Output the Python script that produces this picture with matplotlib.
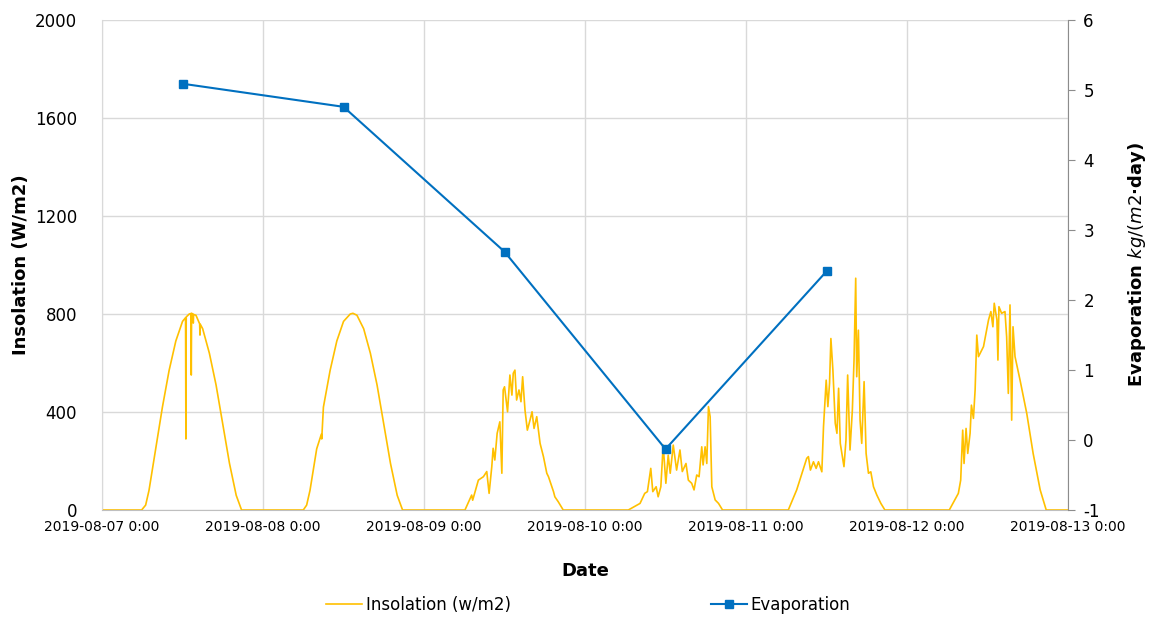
import numpy as np
import pandas as pd
import matplotlib
matplotlib.use("Agg")
import matplotlib.pyplot as plt

plt.rcParams["axes.unicode_minus"] = False

START = pd.Timestamp("2019-08-07")

# insolation, per day: hour of day and W/m2
day1_h = [0, 5.9, 6.5, 7, 8, 9, 10, 11, 12, 12.45, 12.5, 12.55, 13, 13.25, 13.3, 13.35,
          13.55, 13.6, 13.65, 14, 14.55, 14.6, 14.65, 15, 16, 17, 18, 19, 20, 20.8, 24]
day1_v = [0, 0, 20, 80, 250, 420, 570, 690, 770, 785, 290, 788, 800, 802, 551, 803,
          800, 763, 798, 795, 760, 714, 758, 740, 640, 510, 350, 190, 60, 0, 0]

day2_h = [0, 6.0, 6.5, 7, 8, 8.7, 8.75, 9, 10, 11, 12, 13, 13.4, 14, 15, 16, 17, 18, 19, 20, 20.8, 24]
day2_v = [0, 0, 20, 80, 250, 310, 290, 420, 570, 690, 770, 800, 803, 795, 740, 640, 510, 350, 190, 60, 0, 0]

day3_h = [0, 6.1, 7.1, 7.25, 8.1, 8.85, 9.35, 9.7, 10.1, 10.3, 10.55, 10.9, 11.3, 11.6, 11.8,
          12.0, 12.45, 12.8, 13.1, 13.3, 13.55, 13.8, 14.15, 14.45, 14.7, 15.05, 15.4, 15.8,
          16.1, 16.4, 16.8, 17.3, 17.8, 18.3, 18.55, 19.3, 19.5, 20.0, 20.75, 24]
day3_v = [0, 0, 61, 40, 122, 136, 157, 68, 177, 252, 204, 313, 360, 150, 490,
          503, 401, 551, 469, 558, 571, 449, 490, 442, 544, 408, 326, 367,
          401, 333, 381, 272, 218, 150, 136, 75, 54, 34, 0, 0]

day4_h = [0, 6.45, 8.2, 8.9, 9.3, 9.8, 10.1, 10.6, 10.9, 11.3, 11.65, 12.05, 12.4, 12.7,
          13.15, 13.65, 14.15, 14.5, 15.05, 15.4, 15.9, 16.25, 16.65, 17.0, 17.4, 17.6,
          17.9, 18.15, 18.4, 18.65, 18.9, 19.4, 19.9, 20.5, 24]
day4_v = [0, 0, 27, 68, 75, 170, 75, 95, 54, 95, 265, 109, 224, 150,
          265, 163, 245, 157, 190, 122, 109, 82, 143, 136, 258, 184,
          258, 190, 422, 381, 95, 41, 27, 0, 0]

day5_h = [0, 6.3, 7.55, 8.5, 9.05, 9.3, 9.6, 10.05, 10.45, 10.8, 11.3, 11.55, 11.95, 12.2,
          12.45, 12.65, 12.95, 13.3, 13.55, 13.8, 14.05, 14.6, 14.9, 15.15, 15.5, 15.85,
          16.1, 16.35, 16.5, 16.75, 17.0, 17.25, 17.6, 17.9, 18.25, 18.6, 19.0, 19.5,
          20.1, 20.7, 24]
day5_v = [0, 0, 82, 163, 211, 218, 163, 197, 170, 197, 156, 340, 530, 422,
          517, 700, 571, 354, 313, 497, 272, 177, 286, 551, 245, 408,
          612, 946, 544, 734, 367, 272, 524, 231, 150, 156, 95, 61,
          27, 0, 0]

day6_h = [0, 6.3, 7.65, 8.0, 8.3, 8.5, 8.8, 9.05, 9.4, 9.6, 9.9, 10.15, 10.4, 10.65, 11.4,
          12.15, 12.5, 12.8, 13.0, 13.4, 13.55, 13.7, 14.1, 14.6, 14.85, 15.1, 15.35,
          15.6, 15.8, 16.1, 16.85, 17.85, 18.8, 19.85, 20.75, 24]
day6_v = [0, 0, 68, 122, 326, 190, 333, 231, 313, 428, 374, 490, 714, 626, 667,
          776, 810, 748, 844, 776, 612, 830, 803, 810, 707, 476, 837,
          367, 748, 626, 530, 394, 231, 82, 0, 0]

# daily evaporation, kg/(m2 day), plotted at midday
evap_days = ["2019-08-07 12:00", "2019-08-08 12:00", "2019-08-09 12:00",
             "2019-08-10 12:00", "2019-08-11 12:00"]
evap_vals = [5.09, 4.76, 2.69, -0.13, 2.41]

tick_labels = ["2019-08-07 0:00", "2019-08-08 0:00", "2019-08-09 0:00", "2019-08-10 0:00",
               "2019-08-11 0:00", "2019-08-12 0:00", "2019-08-13 0:00"]

ins_t, ins_v = [], []
for d, (hs, vs) in enumerate([(day1_h, day1_v), (day2_h, day2_v), (day3_h, day3_v),
                              (day4_h, day4_v), (day5_h, day5_v), (day6_h, day6_v)]):
    for h, v in zip(hs, vs):
        ins_t.append(START + pd.Timedelta(days=d) + pd.Timedelta(hours=h))
        ins_v.append(v)

GOLD = "#FFC000"
BLUE = "#0070C0"

fig = plt.figure(figsize=(11.53, 6.2), dpi=100)
ax = fig.add_axes([0.0885, 0.1774, 0.8378, 0.7903])
ax2 = ax.twinx()

l1, = ax.plot(ins_t, ins_v, color=GOLD, lw=1.2, label="Insolation (w/m2)")
l2, = ax2.plot(pd.to_datetime(evap_days), evap_vals, color=BLUE, lw=1.5, marker="s",
               markersize=6, label="Evaporation")

ticks = [START + pd.Timedelta(days=i) for i in range(7)]
ax.set_xlim(ticks[0], ticks[-1])
ax.set_xticks(ticks)
ax.set_xticklabels(tick_labels)
ax.set_ylim(0, 2000)
ax.set_yticks([0, 400, 800, 1200, 1600, 2000])
ax2.set_ylim(-1, 6)
ax2.set_yticks(range(-1, 7))

ax.grid(True, color="#D9D9D9", lw=1)
ax.set_axisbelow(True)
for s in ["top", "right"]:
    ax.spines[s].set_visible(False)
for s in ["top", "left"]:
    ax2.spines[s].set_visible(False)
ax.spines["left"].set_color("#D9D9D9")
ax.spines["bottom"].set_color("#BFBFBF")
ax2.spines["bottom"].set_visible(False)
ax2.spines["right"].set_color("#8C8C8C")
ax.tick_params(axis="y", length=0, labelsize=12, pad=18)
ax.tick_params(axis="x", length=0, labelsize=10, pad=7)
ax2.tick_params(axis="y", length=5, color="#8C8C8C", labelsize=12, pad=6)

ax.set_ylabel("Insolation (W/m2)", fontsize=13, fontweight="bold")
ax.yaxis.set_label_coords(-0.075, 0.5)
ax2.set_ylabel("Evaporation $kg/(m2$·day)", fontsize=13, fontweight="bold")
ax2.yaxis.set_label_coords(1.06, 0.5)
ax.set_xlabel("Date", fontsize=13, fontweight="bold", labelpad=20)

fig.legend([l1, l2], ["Insolation (w/m2)", "Evaporation"], loc="lower center",
           bbox_to_anchor=(0.51, -0.015), ncol=2, frameon=False, fontsize=12,
           columnspacing=12, handlelength=2.2, handletextpad=0.2)

fig.savefig("out.png", dpi=100)
